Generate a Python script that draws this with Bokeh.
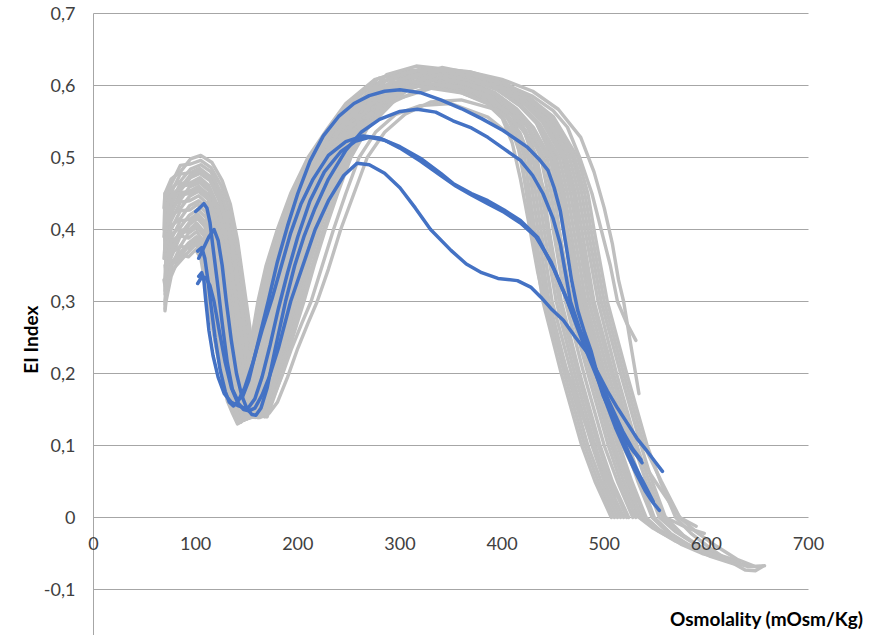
from math import pi

from bokeh.core.properties import value
from bokeh.embed import file_html
from bokeh.models import ColumnDataSource, Label, LabelSet, Range1d
from bokeh.plotting import figure
from bokeh.resources import INLINE

# ---------------------------------------------------------------------------
# Ektacytometry osmoscan curves: elongation index (EI) vs osmolality.
# Grey = reference (control) population, blue = patient samples.
# ---------------------------------------------------------------------------

X_TICKS = [0, 100, 200, 300, 400, 500, 600, 700]
Y_TICKS = [-0.1, 0.0, 0.1, 0.2, 0.3, 0.4, 0.5, 0.6, 0.7]

X_TITLE = "Osmolality (mOsm/Kg)"
Y_TITLE = "EI Index"

# --- control curves --------------------------------------------------------
CTRL_OSM_01 = [70, 71, 76, 85, 93, 100, 105, 110, 115, 120, 126, 131, 136, 141, 146, 151, 155, 161, 169, 180, 193, 210, 229, 247, 275, 305, 365, 394, 416, 433, 449, 457, 463, 475, 493, 513, 525, 540, 555, 572, 590, 605]
CTRL_EI_01 = [.287, .300, .335, .365, .362, .372, .360, .320, .275, .235, .195, .162, .145, .130, .138, .2, .25, .3, .35, .4, .45, .5, .54, .575, .608, .620, .612, .598, .575, .55, .5, .45, .4, .3, .2, .1, .05, 0, -.018, -.032, -.042, -.048]

CTRL_OSM_02 = [70, 71, 76, 85, 93, 100, 106, 111, 116, 121, 127, 132, 137, 142, 147, 153, 157, 163, 171, 182, 195, 212, 231, 249, 277, 307, 362, 388, 407, 420, 430, 436, 441, 453, 471, 491, 503, 519]
CTRL_EI_02 = [.296, .308, .342, .356, .369, .379, .367, .327, .283, .243, .202, .167, .148, .131, .138, .2, .25, .3, .35, .4, .45, .5, .54, .575, .603, .615, .607, .593, .57, .545, .5, .45, .4, .3, .2, .1, .05, 0]

CTRL_OSM_03 = [69, 71, 76, 85, 93, 100, 106, 111, 117, 122, 128, 133, 138, 143, 148, 154, 159, 165, 173, 184, 197, 214, 233, 251, 279, 309, 367, 398, 423, 442, 463, 472, 478, 490, 509, 529, 541, 554, 570, 590, 612, 630]
CTRL_EI_03 = [.33, .314, .347, .377, .374, .384, .372, .333, .289, .249, .207, .171, .150, .132, .138, .2, .25, .3, .35, .4, .45, .5, .54, .575, .61, .622, .614, .6, .577, .552, .5, .45, .4, .3, .2, .1, .05, 0, -.02, -.038, -.052, -.06]

CTRL_OSM_04 = [70, 71, 76, 85, 93, 101, 107, 112, 118, 123, 129, 134, 139, 144, 149, 156, 161, 167, 176, 187, 199, 216, 234, 253, 281, 311, 360, 386, 403, 414, 422, 427, 432, 443, 461, 481, 494, 510]
CTRL_EI_04 = [.30, .321, .354, .368, .381, .390, .379, .341, .297, .256, .213, .176, .153, .133, .138, .2, .25, .3, .35, .4, .45, .5, .54, .575, .593, .605, .597, .583, .56, .535, .5, .45, .4, .3, .2, .1, .05, 0]

CTRL_OSM_05 = [71, 71, 76, 85, 93, 101, 107, 113, 119, 124, 130, 135, 140, 145, 151, 157, 163, 170, 178, 189, 202, 218, 236, 256, 283, 313, 366, 395, 418, 436, 453, 461, 467, 479, 498, 518, 535, 560, 582, 598]
CTRL_EI_05 = [.31, .329, .361, .391, .388, .397, .385, .348, .305, .264, .220, .182, .155, .134, .138, .2, .25, .3, .35, .4, .45, .5, .54, .575, .606, .618, .61, .596, .573, .548, .5, .45, .4, .3, .2, .1, .05, 0, -.015, -.022]

CTRL_OSM_06 = [70, 71, 76, 85, 93, 101, 108, 114, 120, 125, 131, 136, 141, 147, 152, 159, 165, 172, 180, 191, 204, 220, 238, 258, 285, 315, 363, 391, 411, 425, 438, 445, 450, 462, 480, 500, 513, 528]
CTRL_EI_06 = [.35, .336, .367, .377, .395, .403, .392, .356, .313, .271, .226, .187, .158, .135, .138, .2, .25, .3, .35, .4, .45, .5, .54, .575, .6, .612, .604, .59, .567, .542, .5, .45, .4, .3, .2, .1, .05, 0]

CTRL_OSM_07 = [70, 71, 76, 85, 94, 101, 108, 114, 120, 126, 132, 137, 142, 147, 153, 161, 166, 174, 182, 193, 206, 222, 240, 260, 287, 316, 369, 401, 428, 450, 474, 484, 490, 503, 522, 542, 555, 570, 585, 604, 623, 638, 648, 655]
CTRL_EI_07 = [.315, .342, .373, .399, .400, .409, .397, .361, .320, .277, .231, .191, .160, .136, .139, .2, .25, .3, .35, .4, .45, .5, .54, .575, .615, .627, .619, .605, .582, .557, .5, .45, .4, .3, .2, .1, .05, 0, -.022, -.043, -.061, -.073, -.074, -.068]

CTRL_OSM_08 = [71, 71, 76, 85, 94, 102, 109, 115, 121, 127, 133, 138, 143, 149, 154, 162, 168, 176, 185, 196, 208, 224, 242, 262, 289, 318, 364, 392, 414, 429, 444, 451, 456, 468, 487, 507, 519, 534, 548, 565, 582]
CTRL_EI_08 = [.36, .350, .380, .390, .407, .415, .404, .369, .328, .285, .238, .196, .163, .137, .139, .2, .25, .3, .35, .4, .45, .5, .54, .575, .601, .613, .605, .591, .568, .543, .5, .45, .4, .3, .2, .1, .05, 0, -.015, -.028, -.038]

CTRL_OSM_09 = [70, 71, 76, 85, 94, 102, 109, 116, 122, 128, 134, 139, 144, 150, 155, 164, 170, 178, 187, 198, 210, 226, 244, 264, 291, 320, 361, 387, 405, 416, 425, 430, 435, 446, 464, 484, 497, 513]
CTRL_EI_09 = [.33, .357, .386, .412, .414, .422, .411, .376, .336, .292, .244, .201, .166, .138, .139, .2, .25, .3, .35, .4, .45, .5, .54, .575, .588, .6, .592, .578, .555, .53, .5, .45, .4, .3, .2, .1, .05, 0]

CTRL_OSM_10 = [70, 71, 76, 85, 94, 102, 110, 117, 123, 129, 135, 140, 145, 151, 156, 166, 172, 180, 189, 200, 213, 228, 246, 266, 293, 322, 366, 397, 421, 439, 459, 467, 473, 485, 504, 524, 536, 549, 565, 585, 605, 622]
CTRL_EI_10 = [.39, .365, .393, .403, .420, .428, .417, .384, .344, .300, .251, .206, .169, .139, .139, .2, .25, .3, .35, .4, .45, .5, .54, .575, .608, .62, .612, .598, .575, .55, .5, .45, .4, .3, .2, .1, .05, 0, -.022, -.04, -.053, -.06]

CTRL_OSM_11 = [71, 71, 76, 85, 94, 102, 110, 118, 124, 130, 136, 142, 147, 152, 158, 167, 174, 183, 192, 203, 215, 230, 248, 269, 296, 324, 363, 389, 409, 423, 434, 441, 446, 458, 476, 496, 508, 524]
CTRL_EI_11 = [.35, .372, .400, .426, .427, .435, .424, .391, .352, .307, .257, .211, .171, .140, .139, .2, .25, .3, .35, .4, .45, .5, .54, .575, .596, .608, .6, .586, .563, .538, .5, .45, .4, .3, .2, .1, .05, 0]

CTRL_OSM_12 = [69, 70, 76, 85, 94, 103, 111, 118, 125, 131, 137, 142, 147, 153, 158, 169, 176, 184, 193, 204, 217, 232, 249, 270, 297, 326, 368, 399, 425, 446, 469, 478, 484, 497, 516, 536, 547, 560, 577, 598, 620, 640, 652]
CTRL_EI_12 = [.36, .378, .405, .415, .433, .440, .429, .397, .358, .313, .263, .216, .174, .140, .139, .2, .25, .3, .35, .4, .45, .5, .54, .575, .612, .624, .616, .602, .579, .554, .5, .45, .4, .3, .2, .1, .05, 0, -.024, -.045, -.06, -.068, -.068]

CTRL_OSM_13 = [70, 70, 76, 85, 94, 103, 111, 119, 126, 132, 138, 144, 149, 154, 160, 170, 178, 187, 196, 207, 219, 234, 251, 273, 300, 328, 361, 387, 406, 418, 427, 433, 438, 449, 468, 488, 500, 516]
CTRL_EI_13 = [.40, .386, .412, .438, .440, .447, .436, .404, .366, .321, .269, .221, .176, .141, .139, .2, .25, .3, .35, .4, .45, .5, .54, .575, .591, .603, .595, .581, .558, .533, .5, .45, .4, .3, .2, .1, .05, 0]

CTRL_OSM_14 = [70, 70, 76, 85, 94, 103, 112, 120, 127, 133, 139, 145, 150, 155, 161, 172, 180, 189, 198, 209, 222, 236, 253, 275, 302, 330, 365, 394, 417, 434, 451, 459, 464, 477, 495, 515, 527, 541, 556, 575, 596, 618, 628]
CTRL_EI_14 = [.37, .393, .419, .429, .446, .453, .442, .412, .374, .328, .276, .226, .179, .142, .139, .2, .25, .3, .35, .4, .45, .5, .54, .575, .605, .617, .609, .595, .572, .547, .5, .45, .4, .3, .2, .1, .05, 0, -.02, -.037, -.05, -.058, -.06]

CTRL_OSM_15 = [71, 70, 76, 85, 94, 103, 112, 121, 128, 134, 140, 146, 151, 156, 162, 174, 182, 191, 200, 211, 224, 238, 255, 277, 304, 332, 364, 391, 412, 427, 441, 448, 453, 465, 484, 504, 516, 531]
CTRL_EI_15 = [.42, .401, .425, .451, .453, .460, .449, .419, .382, .336, .282, .231, .182, .143, .139, .2, .25, .3, .35, .4, .45, .5, .54, .575, .598, .61, .602, .588, .565, .54, .5, .45, .4, .3, .2, .1, .05, 0]

CTRL_OSM_16 = [70, 70, 76, 85, 94, 104, 113, 121, 128, 135, 141, 147, 152, 157, 163, 175, 183, 193, 202, 213, 226, 240, 257, 279, 306, 333, 368, 399, 424, 444, 466, 475, 481, 494, 512, 532, 544, 557, 574, 595, 615, 633]
CTRL_EI_16 = [.39, .407, .431, .441, .459, .465, .454, .425, .389, .342, .287, .235, .184, .144, .139, .2, .25, .3, .35, .4, .45, .5, .54, .575, .61, .622, .614, .6, .577, .552, .5, .45, .4, .3, .2, .1, .05, 0, -.022, -.042, -.055, -.063]

CTRL_OSM_17 = [70, 70, 76, 85, 95, 104, 113, 122, 129, 136, 142, 148, 153, 158, 164, 177, 185, 195, 205, 216, 228, 242, 259, 281, 308, 335, 360, 385, 402, 412, 419, 424, 429, 440, 458, 478, 491, 507]
CTRL_EI_17 = [.44, .414, .438, .464, .465, .472, .461, .432, .397, .349, .294, .240, .187, .145, .140, .2, .25, .3, .35, .4, .45, .5, .54, .575, .586, .598, .59, .576, .553, .528, .5, .45, .4, .3, .2, .1, .05, 0]

CTRL_OSM_18 = [71, 70, 76, 85, 95, 104, 114, 123, 130, 137, 143, 149, 154, 160, 165, 179, 187, 197, 207, 218, 230, 244, 261, 283, 310, 337, 366, 396, 419, 437, 456, 464, 470, 482, 501, 521, 533, 547, 563, 583, 604, 626, 640]
CTRL_EI_18 = [.41, .422, .444, .454, .472, .478, .468, .440, .405, .357, .300, .245, .190, .146, .140, .2, .25, .3, .35, .4, .45, .5, .54, .575, .604, .616, .608, .594, .571, .546, .5, .45, .4, .3, .2, .1, .05, 0, -.022, -.04, -.054, -.064, -.066]

CTRL_OSM_19 = [70, 70, 76, 85, 95, 104, 114, 124, 131, 138, 144, 150, 155, 161, 167, 180, 189, 200, 209, 220, 233, 246, 263, 286, 312, 339, 365, 393, 415, 431, 447, 454, 460, 472, 490, 510, 522, 537, 552, 570, 590, 610]
CTRL_EI_19 = [.45, .429, .451, .477, .479, .485, .474, .447, .413, .364, .307, .251, .192, .147, .140, .2, .25, .3, .35, .4, .45, .5, .54, .575, .599, .611, .603, .589, .566, .541, .5, .45, .4, .3, .2, .1, .05, 0, -.018, -.033, -.045, -.052]

CTRL_OSM_20 = [70, 70, 76, 85, 95, 105, 115, 124, 132, 139, 145, 151, 156, 162, 168, 182, 191, 202, 211, 222, 234, 248, 264, 288, 314, 341, 369, 400, 427, 448, 471, 481, 487, 500, 519, 539, 556, 574, 590, 610, 630, 648, 657]
CTRL_EI_20 = [.42, .435, .457, .467, .484, .490, .480, .453, .419, .370, .312, .255, .195, .148, .140, .2, .25, .3, .35, .4, .45, .5, .54, .575, .613, .625, .617, .603, .58, .555, .5, .45, .4, .3, .2, .1, .05, 0, -.02, -.04, -.058, -.068, -.067]

CTRL_OSM_21 = [69, 70, 76, 85, 95, 105, 115, 125, 133, 140, 146, 152, 157, 163, 169, 183, 193, 204, 214, 225, 237, 250, 266, 290, 316, 343, 362, 389, 409, 422, 433, 439, 444, 456, 474, 494, 507, 522]
CTRL_EI_21 = [.40, .443, .463, .489, .491, .496, .486, .461, .427, .378, .319, .260, .197, .149, .140, .2, .25, .3, .35, .4, .45, .5, .54, .575, .592, .604, .596, .582, .559, .534, .5, .45, .4, .3, .2, .1, .05, 0]

CTRL_OSM_22 = [69, 70, 76, 85, 95, 105, 116, 126, 134, 141, 147, 153, 158, 164, 170, 185, 195, 206, 216, 227, 239, 252, 268, 292, 318, 345, 367, 397, 422, 441, 461, 470, 475, 488, 507, 527, 550, 574, 590]
CTRL_EI_22 = [.43, .450, .470, .480, .498, .503, .493, .468, .435, .385, .325, .265, .200, .150, .140, .2, .25, .3, .35, .4, .45, .5, .54, .575, .607, .619, .611, .597, .574, .549, .5, .45, .4, .3, .2, .1, .05, 0, -.012]

CTRL_OSM_23 = [70, 70, 76, 85, 94, 103, 112, 120, 127, 134, 140, 145, 150, 156, 161, 170, 178, 187, 196, 207, 219, 234, 251, 273, 300, 328, 369, 401, 430, 450, 464, 476, 488, 497, 506, 513, 522, 531]
CTRL_EI_23 = [.37, .397, .422, .448, .450, .456, .446, .415, .378, .332, .279, .228, .180, .143, .139, .2, .25, .3, .35, .4, .45, .5, .54, .575, .608, .62, .615, .603, .585, .565, .542, .5, .45, .4, .35, .3, .27, .246]

CTRL_OSM_24 = [70, 71, 76, 85, 94, 102, 109, 116, 122, 127, 133, 139, 144, 149, 155, 162, 168, 176, 185, 196, 208, 224, 242, 262, 289, 318, 368, 401, 430, 455, 477, 490, 500, 508, 514, 519, 526, 534]
CTRL_EI_24 = [.33, .353, .383, .393, .410, .419, .407, .373, .332, .288, .241, .199, .165, .137, .139, .2, .25, .3, .35, .4, .45, .5, .54, .575, .61, .622, .619, .608, .592, .567, .528, .48, .43, .38, .33, .3, .24, .172]

CTRL_OSM_25 = [70, 71, 76, 85, 94, 101, 108, 114, 120, 125, 131, 137, 142, 147, 152, 157, 163, 170, 178, 189, 202, 218, 236, 256, 283, 313, 360, 385, 400, 410, 418, 426, 435, 444, 455, 467, 477, 487, 496, 503]
CTRL_EI_25 = [.31, .339, .370, .396, .397, .406, .395, .359, .317, .274, .229, .189, .159, .135, .138, .2, .25, .3, .35, .4, .45, .5, .54, .575, .588, .6, .59, .575, .555, .52, .47, .41, .34, .283, .235, .19, .15, .107, .075, .05]

CTRL_OSM_26 = [70, 71, 76, 85, 93, 101, 106, 112, 117, 122, 128, 134, 139, 144, 149, 154, 159, 165, 173, 184, 197, 214, 233, 251, 279, 309, 360, 388, 405, 415, 423, 431, 440, 450, 462, 475, 490, 502, 512]
CTRL_EI_26 = [.29, .317, .351, .361, .378, .387, .375, .337, .293, .252, .210, .174, .151, .132, .138, .2, .25, .3, .35, .4, .45, .5, .54, .575, .593, .605, .598, .585, .56, .52, .46, .4, .33, .27, .21, .155, .1, .06, .03]

CTRL_OSM_27 = [69, 70, 76, 85, 94, 104, 113, 122, 129, 135, 141, 147, 152, 158, 166, 174, 184, 194, 204, 213, 224, 235, 247, 260, 276, 296, 320, 350, 386, 418, 432, 445, 455, 464, 473, 484, 496, 508, 520, 532]
CTRL_EI_27 = [.39, .410, .434, .460, .462, .468, .458, .429, .393, .345, .291, .238, .185, .145, .143, .16, .195, .235, .27, .3, .35, .4, .45, .5, .535, .56, .572, .575, .556, .52, .49, .44, .385, .33, .28, .22, .16, .105, .06, .025]

CTRL_OSM_28 = [70, 70, 76, 85, 95, 104, 114, 123, 131, 138, 144, 149, 154, 160, 172, 180, 190, 200, 210, 219, 230, 242, 255, 268, 285, 305, 330, 360, 395, 420, 437, 450, 460, 470, 480, 492, 505, 518, 530, 543]
CTRL_EI_28 = [.40, .425, .448, .458, .476, .481, .471, .444, .409, .360, .304, .248, .191, .147, .145, .16, .195, .235, .27, .3, .345, .4, .45, .5, .535, .56, .577, .58, .566, .54, .508, .465, .415, .36, .3, .232, .165, .105, .065, .03]

# --- patient curves --------------------------------------------------------
PAT_OSM_1 = [100, 104, 108, 111, 114, 117, 121, 126, 131, 136, 141, 146, 152, 158, 164, 171, 180, 190, 200, 212, 225, 240, 255, 270, 285, 300, 320, 340, 360, 380, 401, 415, 425, 436, 445, 451, 457, 463, 468, 474, 481, 487, 495, 501, 511, 521, 530, 540, 547, 554]
PAT_EI_1 = [.425, .430, .436, .430, .41, .375, .33, .27, .215, .178, .163, .168, .19, .225, .26, .30, .355, .405, .45, .495, .53, .557, .575, .586, .592, .594, .590, .580, .568, .554, .5375, .524, .514, .498, .482, .458, .426, .375, .33, .288, .256, .232, .19, .1625, .125, .093, .065, .0375, .022, .01]

PAT_OSM_2 = [103, 108, 113, 118, 122, 126, 130, 135, 140, 145, 150, 155, 159, 164, 170, 178, 188, 197, 206, 217, 230, 247, 262, 280, 300, 317, 335, 352, 370, 386, 402, 418, 430, 440, 450, 457, 462, 467, 476, 485, 492, 499, 509, 518, 528, 537]
PAT_EI_2 = [.36, .375, .39, .40, .385, .35, .30, .245, .20, .17, .152, .143, .142, .152, .18, .235, .30, .35, .39, .43, .47, .51, .535, .553, .564, .567, .563, .551, .541, .528, .512, .496, .475, .45, .415, .38, .34, .30, .262, .232, .20, .169, .14, .114, .093, .076]

PAT_OSM_3 = [102, 106, 109, 112, 115, 119, 124, 129, 133, 137, 141, 148, 156, 165, 175, 184, 193, 203, 215, 230, 247, 264, 280, 300, 320, 340, 352, 370, 386, 402, 418, 435, 450, 464, 472, 480, 490, 500, 512, 524, 536, 548]
PAT_EI_3 = [.37, .375, .36, .33, .295, .25, .205, .175, .16, .155, .16, .18, .215, .26, .305, .35, .395, .435, .47, .503, .522, .53, .527, .515, .499, .478, .464, .45, .44, .427, .4125, .389, .347, .301, .27, .24, .205, .17, .13, .09, .055, .022]

PAT_OSM_4 = [103, 106, 108, 110, 113, 117, 122, 128, 135, 142, 148, 152, 158, 165, 173, 181, 190, 200, 212, 226, 242, 257, 270, 285, 300, 320, 340, 355, 370, 386, 402, 418, 433, 448, 460, 470, 480, 492, 505, 518, 528, 536]
PAT_EI_4 = [.335, .34, .33, .30, .26, .225, .195, .172, .16, .155, .152, .153, .165, .195, .24, .29, .34, .39, .44, .48, .508, .523, .528, .524, .513, .495, .475, .46, .448, .436, .424, .409, .39, .355, .315, .28, .245, .205, .16, .12, .095, .08]

PAT_OSM_5 = [102, 106, 110, 114, 118, 123, 129, 135, 141, 147, 152, 158, 165, 172, 181, 193, 205, 217, 230, 245, 258, 270, 285, 300, 315, 330, 350, 365, 380, 396, 415, 428, 438, 448, 460, 472, 484, 493, 503, 513, 523, 532, 541, 550, 557]
PAT_EI_5 = [.325, .334, .333, .322, .30, .26, .215, .18, .16, .15, .148, .152, .17, .195, .235, .30, .35, .40, .44, .475, .492, .49, .478, .458, .43, .40, .371, .352, .34, .332, .329, .32, .306, .29, .274, .25, .228, .203, .176, .152, .13, .11, .094, .077, .064]

CONTROL_CURVES = [
    (CTRL_OSM_01, CTRL_EI_01), (CTRL_OSM_02, CTRL_EI_02), (CTRL_OSM_03, CTRL_EI_03),
    (CTRL_OSM_04, CTRL_EI_04), (CTRL_OSM_05, CTRL_EI_05), (CTRL_OSM_06, CTRL_EI_06),
    (CTRL_OSM_07, CTRL_EI_07), (CTRL_OSM_08, CTRL_EI_08), (CTRL_OSM_09, CTRL_EI_09),
    (CTRL_OSM_10, CTRL_EI_10), (CTRL_OSM_11, CTRL_EI_11), (CTRL_OSM_12, CTRL_EI_12),
    (CTRL_OSM_13, CTRL_EI_13), (CTRL_OSM_14, CTRL_EI_14), (CTRL_OSM_15, CTRL_EI_15),
    (CTRL_OSM_16, CTRL_EI_16), (CTRL_OSM_17, CTRL_EI_17), (CTRL_OSM_18, CTRL_EI_18),
    (CTRL_OSM_19, CTRL_EI_19), (CTRL_OSM_20, CTRL_EI_20), (CTRL_OSM_21, CTRL_EI_21),
    (CTRL_OSM_22, CTRL_EI_22), (CTRL_OSM_23, CTRL_EI_23), (CTRL_OSM_24, CTRL_EI_24),
    (CTRL_OSM_25, CTRL_EI_25), (CTRL_OSM_26, CTRL_EI_26), (CTRL_OSM_27, CTRL_EI_27),
    (CTRL_OSM_28, CTRL_EI_28),
]
PATIENT_CURVES = [
    (PAT_OSM_1, PAT_EI_1), (PAT_OSM_2, PAT_EI_2), (PAT_OSM_3, PAT_EI_3),
    (PAT_OSM_4, PAT_EI_4), (PAT_OSM_5, PAT_EI_5),
]

GREY = "#bfbfbf"
BLUE = "#4472c4"
GRID = "#a6a6a6"
TEXT = "#404040"
FONT = "Lato"

# The data area spans the whole canvas so that tick labels and titles placed
# outside the 0..700 / -0.1..0.7 box are not clipped.
PX_PER_OSM = 715 / 700
PX_PER_EI = 720
LEFT_PX, RIGHT_PX, TOP_PX = 93, 61, 13
W, H = 869, 635

x_lo = X_TICKS[0] - LEFT_PX / PX_PER_OSM
x_hi = X_TICKS[-1] + RIGHT_PX / PX_PER_OSM
y_hi = Y_TICKS[-1] + TOP_PX / PX_PER_EI
y_lo = y_hi - H / PX_PER_EI

p = figure(
    width=W, height=H,
    output_backend="svg", toolbar_location=None,
    x_range=Range1d(x_lo, x_hi), y_range=Range1d(y_lo, y_hi),
    x_axis_location=None, y_axis_location=None,
    min_border=0,
)
p.outline_line_color = None
p.background_fill_color = "white"
p.border_fill_color = "white"
p.grid.grid_line_color = None

# horizontal gridlines and the vertical axis line at x = 0
p.segment(x0=X_TICKS[0], x1=X_TICKS[-1], y0=Y_TICKS, y1=Y_TICKS,
          line_color=GRID, line_width=1)
p.segment(x0=[X_TICKS[0]], x1=[X_TICKS[0]], y0=[y_lo], y1=[Y_TICKS[-1]],
          line_color=GRID, line_width=1)

# curves
p.multi_line(
    xs=[c[0] for c in CONTROL_CURVES], ys=[c[1] for c in CONTROL_CURVES],
    line_color=GREY, line_width=3.4, line_join="round", line_cap="round",
)
p.multi_line(
    xs=[c[0] for c in PATIENT_CURVES], ys=[c[1] for c in PATIENT_CURVES],
    line_color=BLUE, line_width=3.5, line_join="round", line_cap="round",
)


def ei_label(v):
    v = round(v, 1)
    return "0" if abs(v) < 1e-9 else f"{v:.1f}".replace(".", ",")


ylab_src = ColumnDataSource(dict(
    x=[X_TICKS[0]] * len(Y_TICKS), y=Y_TICKS, text=[ei_label(v) for v in Y_TICKS],
))
p.add_layout(LabelSet(
    x="x", y="y", text="text", source=ylab_src,
    x_offset=-18, text_align="right", text_baseline="middle",
    text_font=value(FONT), text_font_size="18px", text_color=TEXT,
))

# osmolality tick labels sit just under the zero line
xlab_src = ColumnDataSource(dict(
    x=X_TICKS, y=[0.0] * len(X_TICKS), text=[str(t) for t in X_TICKS],
))
p.add_layout(LabelSet(
    x="x", y="y", text="text", source=xlab_src,
    y_offset=-26, text_align="center", text_baseline="middle",
    text_font=value(FONT), text_font_size="18px", text_color=TEXT,
))

p.add_layout(Label(
    x=X_TICKS[0], y=0.247, x_offset=-63, text=Y_TITLE, angle=pi / 2,
    text_align="center", text_baseline="middle",
    text_font=FONT, text_font_size="19px", text_font_style="bold", text_color="black",
))
p.add_layout(Label(
    x=X_TICKS[-1], y=-0.1403, x_offset=55, text=X_TITLE,
    text_align="right", text_baseline="middle",
    text_font=FONT, text_font_size="19px", text_font_style="bold", text_color="black",
))

open("out.html", "w").write(file_html(p, INLINE))
